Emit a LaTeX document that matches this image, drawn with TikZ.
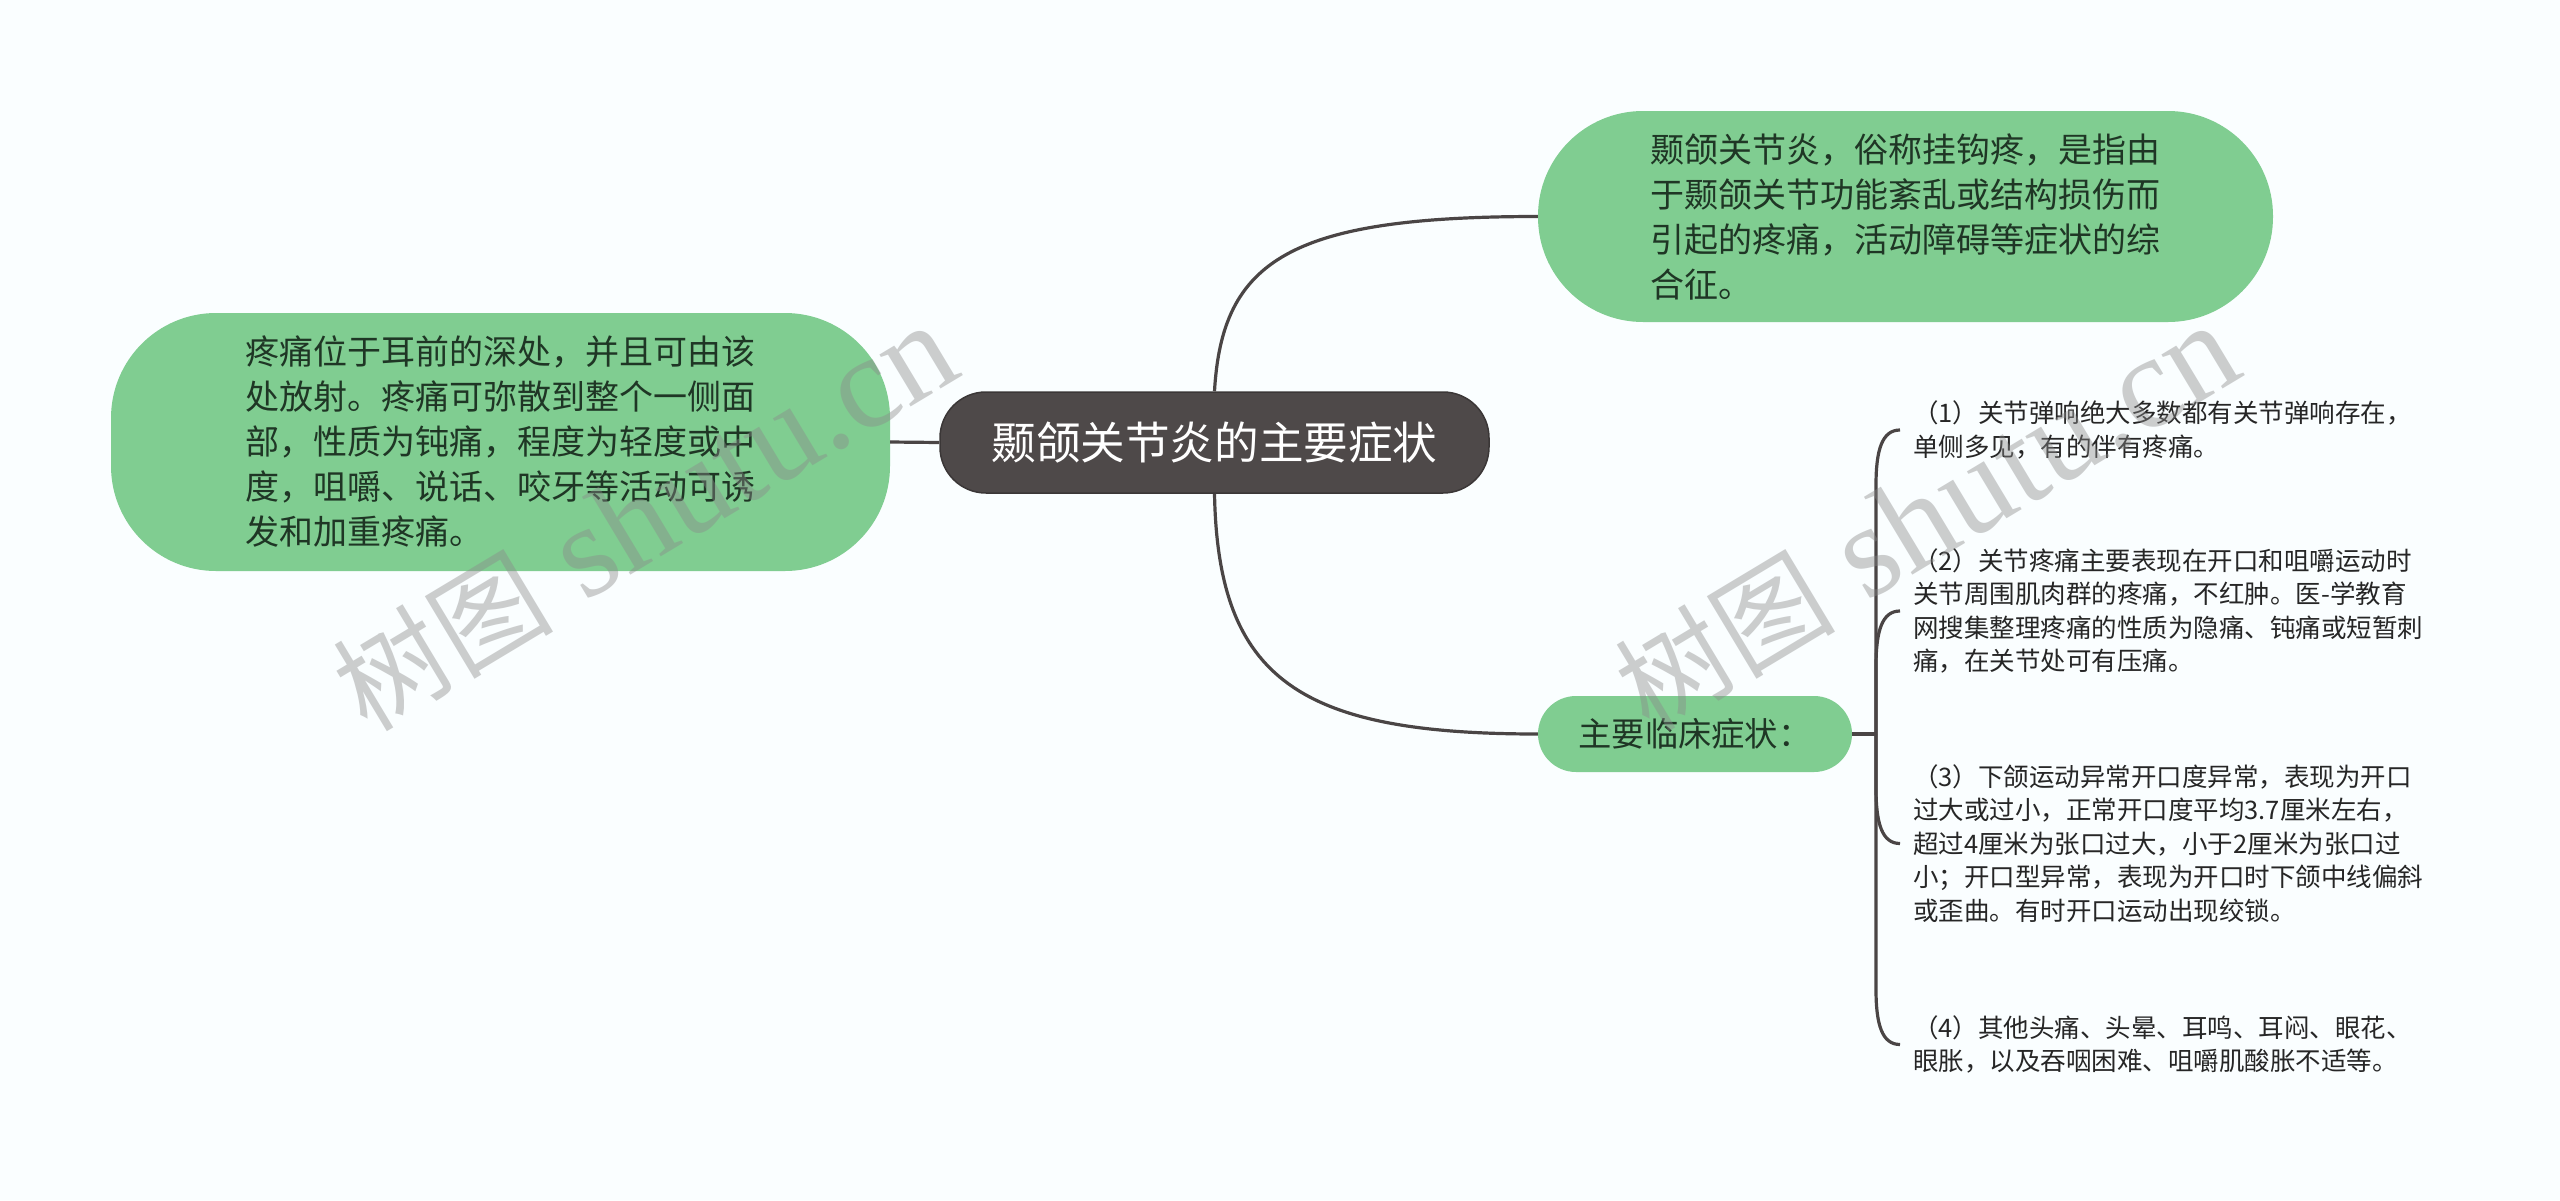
\documentclass[tikz,border=0pt]{standalone}
\usepackage{fontspec}
\setmainfont{Noto Sans CJK SC}
\newfontfamily\wmlatin{Liberation Serif}
\usetikzlibrary{calc}
\definecolor{bg}{HTML}{FAFEFF}
\definecolor{leaf}{HTML}{80CD91}
\definecolor{leaftext}{HTML}{1F3625}
\definecolor{childtext}{HTML}{262626}
\definecolor{rootfill}{HTML}{4E4949}
\definecolor{rootdraw}{HTML}{3B3737}
\definecolor{linec}{HTML}{4A4545}
\definecolor{wmc}{HTML}{8A8A8A}
\begin{document}
\begin{tikzpicture}[x=1pt,y=-1pt,
  conn/.style={draw=linec, line width=3.2pt},
  bignode/.style={rectangle, rounded corners=105pt, fill=leaf, text=leaftext, align=left,
    inner sep=0pt, font=\fontsize{34}{45}\selectfont},
  rootnode/.style={rectangle, rounded corners=46pt, fill=rootfill, draw=rootdraw, line width=1.5pt,
    text=white, inner sep=0pt, font=\fontsize{44.6}{50}\selectfont},
  midnode/.style={rectangle, rounded corners=38pt, fill=leaf, text=leaftext, inner sep=0pt,
    font=\fontsize{33.3}{40}\selectfont},
  childnode/.style={anchor=west, align=left, inner xsep=13pt, inner ysep=0pt, text=childtext,
    font=\fontsize{25.5}{33.5}\selectfont},
  wm/.style={text=wmc, text opacity=0.42, inner sep=0pt}
]
\useasboundingbox (0,0) rectangle (2560,1200);
\fill[bg] (0,0) rectangle (2560,1200);

% nodes
\node[rootnode, minimum width=549pt, minimum height=101pt] (root) at (1214.5,442.5) {颞颌关节炎的主要症状};

\node[bignode, minimum width=779pt, minimum height=258pt] (L) at (500.5,442)
  {疼痛位于耳前的深处，并且可由该\\处放射。疼痛可弥散到整个一侧面\\部，性质为钝痛，程度为轻度或中\\度，咀嚼、说话、咬牙等活动可诱\\发和加重疼痛。};

\node[bignode, minimum width=735pt, minimum height=211pt] (T) at (1905.5,216.5)
  {颞颌关节炎，俗称挂钩疼，是指由\\于颞颌关节功能紊乱或结构损伤而\\引起的疼痛，活动障碍等症状的综\\合征。};

\node[midnode, minimum width=314pt, minimum height=76pt] (Z) at (1695,734) {主要临床症状：};

\node[childnode] (c1) at (1900,430)
  {（1）关节弹响绝大多数都有关节弹响存在，\\单侧多见，有的伴有疼痛。};
\node[childnode] (c2) at (1900,611)
  {（2）关节疼痛主要表现在开口和咀嚼运动时\\关节周围肌肉群的疼痛，不红肿。医-学教育\\网搜集整理疼痛的性质为隐痛、钝痛或短暂刺\\痛，在关节处可有压痛。};
\node[childnode] (c3) at (1900,843.5)
  {（3）下颌运动异常开口度异常，表现为开口\\过大或过小，正常开口度平均3.7厘米左右，\\超过4厘米为张口过大，小于2厘米为张口过\\小；开口型异常，表现为开口时下颌中线偏斜\\或歪曲。有时开口运动出现绞锁。};
\node[childnode] (c4) at (1900,1044.5)
  {（4）其他头痛、头晕、耳鸣、耳闷、眼花、\\眼胀，以及吞咽困难、咀嚼肌酸胀不适等。};

% connectors
\draw[conn] (root.west) -- (L.east);
\draw[conn] (root.north) .. controls (1222,260) and (1290,216.5) .. (T.west);
\draw[conn] (root.south) .. controls (1218,680) and (1300,734) .. (Z.west);

\coordinate (jn) at (1876,734);
\draw[conn] (Z.east) -- (jn);
\draw[conn] (jn) -- ($(c1.west)+(-24,55)$) .. controls +(0,-35) and +(-18,0) .. (c1.west);
\draw[conn] (jn) -- ($(c2.west)+(-24,55)$) .. controls +(0,-35) and +(-18,0) .. (c2.west);
\draw[conn] (jn) -- ($(c3.west)+(-24,-55)$) .. controls +(0,35) and +(-18,0) .. (c3.west);
\draw[conn] (jn) -- ($(c4.west)+(-24,-55)$) .. controls +(0,35) and +(-18,0) .. (c4.west);

% watermarks
\node[wm, rotate=31] (wm1) at (645,518) {{\fontsize{110}{110}\selectfont 树图}{\wmlatin\fontsize{132}{132}\selectfont\ shutu.cn}};
\node[wm, rotate=31] (wm2) at (1927,518) {{\fontsize{110}{110}\selectfont 树图}{\wmlatin\fontsize{132}{132}\selectfont\ shutu.cn}};
\end{tikzpicture}
\end{document}
